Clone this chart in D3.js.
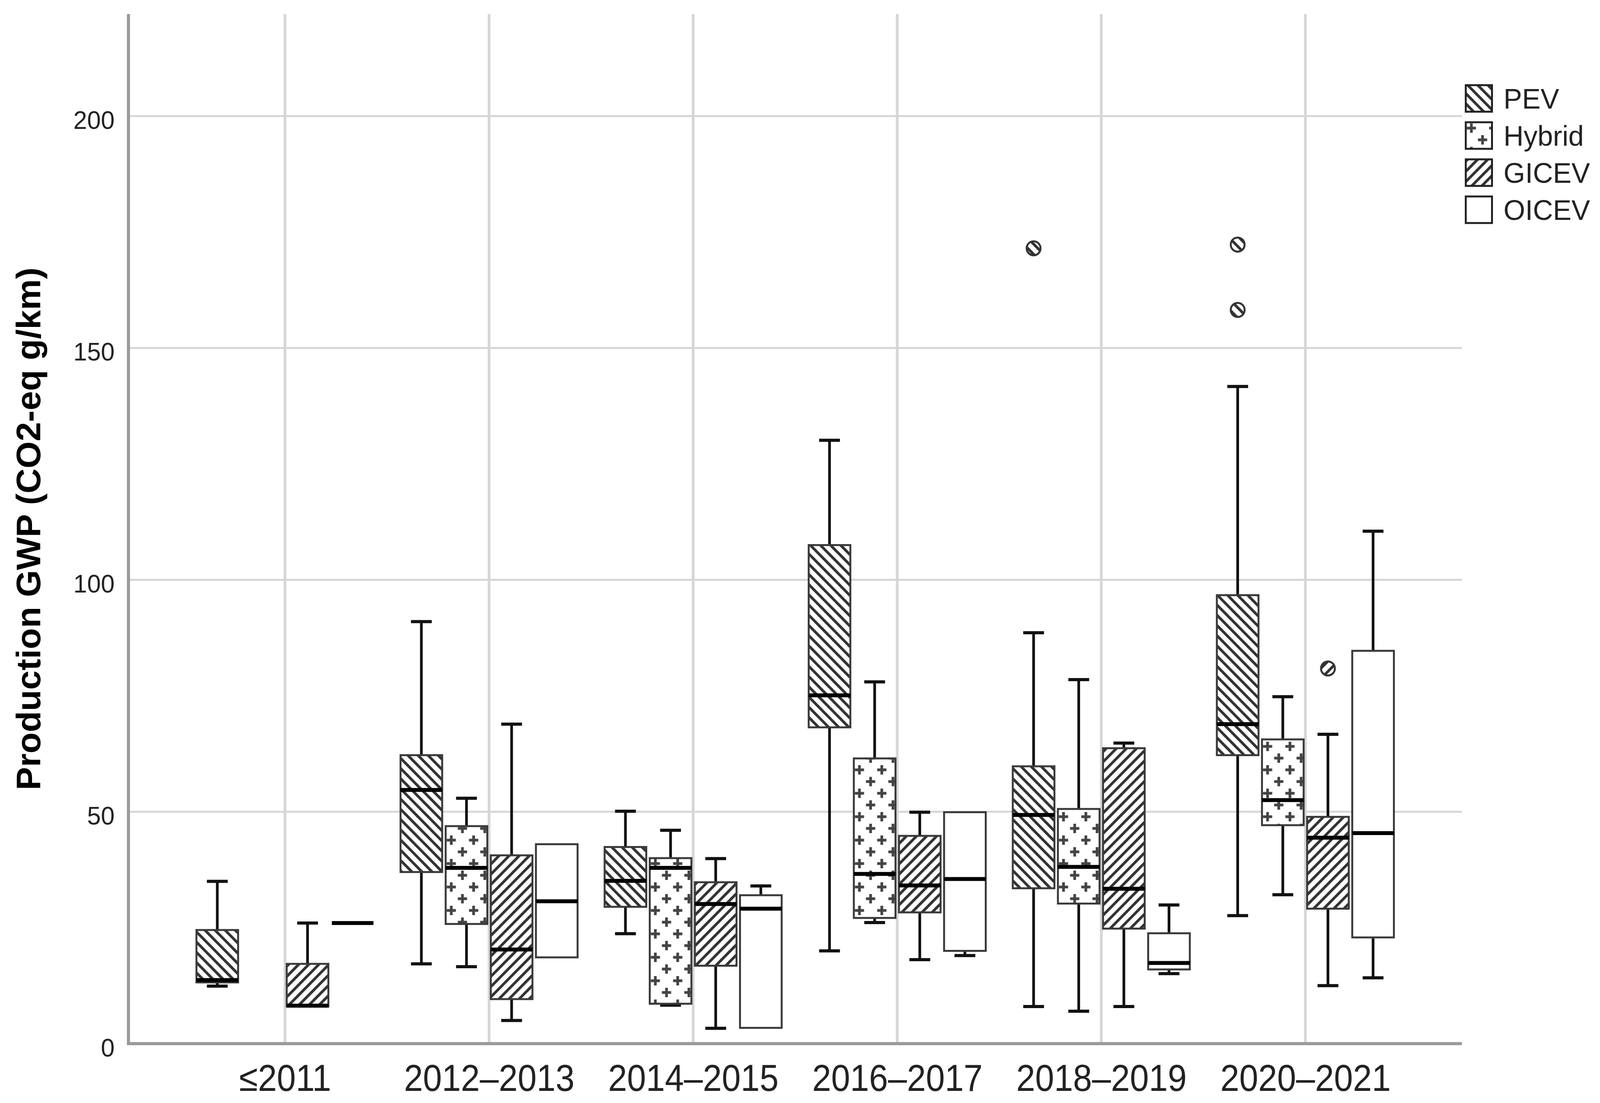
<!DOCTYPE html>
<html>
<head>
<meta charset="utf-8">
<script src="https://cdn.jsdelivr.net/npm/d3@7"></script>
<style>
  html, body { margin: 0; padding: 0; width: 100%; height: 100%; overflow: hidden; background: #fff; }
  #chart-area { width: 100%; height: 100%; }
  svg { display: block; }
  text { font-family: "Liberation Sans", Arial, sans-serif; }
</style>
</head>
<body>
<div id="chart-area"></div>
<script>
// box plot: production GWP by model year and powertrain

const width = 4148;
const height = 2824;

const margins = { top: 36, right: 358, bottom: 152, left: 333 };
const graphWidth = width - margins.left - margins.right;
const graphHeight = height - margins.top - margins.bottom;

// data: [min, q1, median, q3, max] per year bin
const categories = ["≤2011", "2012–2013", "2014–2015", "2016–2017", "2018–2019", "2020–2021"];
const groups = ["PEV", "Hybrid", "GICEV", "OICEV"];

const pevStats = [
    [12.4, 13.2, 13.7, 24.5, 35.0],
    [17.2, 37.0, 54.7, 62.2, 91.0],
    [23.7, 29.5, 35.1, 42.4, 50.1],
    [20.0, 68.2, 75.1, 107.5, 130.1],
    [8.0, 33.5, 49.3, 59.8, 88.6],
    [27.6, 62.2, 68.9, 96.7, 141.7]
];
const hybridStats = [
    null,
    [16.6, 25.8, 37.9, 46.9, 52.9],
    [8.3, 8.6, 37.9, 40.0, 46.0],
    [26.1, 27.1, 36.6, 61.5, 78.0],
    [7.0, 30.2, 38.1, 50.6, 78.5],
    [32.1, 47.1, 52.5, 65.6, 74.8]
];
const gicevStats = [
    [8.0, 8.0, 8.2, 17.2, 26.0],
    [5.0, 9.6, 20.3, 40.6, 68.9],
    [3.3, 16.8, 30.1, 34.8, 39.9],
    [18.1, 28.3, 34.1, 44.8, 49.9],
    [8.0, 24.8, 33.4, 63.7, 64.8],
    [12.5, 29.1, 44.4, 48.9, 66.7]
];
const oicevStats = [
    [26.0, 26.0, 26.0, 26.0, 26.0],
    [18.6, 18.6, 30.7, 43.0, 43.0],
    [3.4, 3.4, 29.1, 32.0, 34.0],
    [19.0, 20.0, 35.5, 49.9, 49.9],
    [15.1, 16.0, 17.4, 23.8, 29.9],
    [14.2, 22.9, 45.4, 84.7, 110.5]
];

// outliers
const outlierCats = ["2018–2019", "2020–2021", "2020–2021", "2020–2021"];
const outlierGroups = ["PEV", "PEV", "PEV", "GICEV"];
const outlierValues = [171.5, 172.3, 158.2, 80.9];

const yTicks = [0, 50, 100, 150, 200];
const yTitle = "Production GWP (CO2-eq g/km)";

const statsByGroup = { PEV: pevStats, Hybrid: hybridStats, GICEV: gicevStats, OICEV: oicevStats };
const fillByGroup = { PEV: "url(#pev)", Hybrid: "url(#hybrid)", GICEV: "url(#gicev)", OICEV: "#fff" };

let boxes = [];
groups.forEach(g => {
    statsByGroup[g].forEach((s, i) => {
        if (s) boxes.push({ cat: categories[i], group: g, min: s[0], q1: s[1], med: s[2], q3: s[3], max: s[4] });
    });
});

// viewBox stretched to the real viewport (it is not exactly 4148 wide)
const svg = d3.select("#chart-area")
    .append("svg")
    .attr("viewBox", `0 0 ${width} ${height}`)
    .attr("preserveAspectRatio", "none")
    .attr("width", "100%")
    .attr("height", "100%");

// fill patterns
const defs = svg.append("defs");

function hatch(id, angle) {
    const p = defs.append("pattern")
        .attr("id", id)
        .attr("patternUnits", "userSpaceOnUse")
        .attr("width", 18.5)
        .attr("height", 18.5)
        .attr("patternTransform", `rotate(${angle})`);
    p.append("rect").attr("width", 18.5).attr("height", 18.5).attr("fill", "#fff");
    p.append("rect").attr("x", 0).attr("width", 7).attr("height", 18.5).attr("fill", "#333");
}
hatch("pev", -45);
hatch("gicev", 45);

const hyb = defs.append("pattern")
    .attr("id", "hybrid")
    .attr("patternUnits", "userSpaceOnUse")
    .attr("width", 58)
    .attr("height", 60);
hyb.append("rect").attr("width", 58).attr("height", 60).attr("fill", "#fff");
[[14.5, 15], [43.5, 45]].forEach(([cx, cy]) => {
    hyb.append("path")
        .attr("d", `M${cx - 12},${cy}H${cx + 12}M${cx},${cy - 12}V${cy + 12}`)
        .attr("stroke", "#444")
        .attr("stroke-width", 7);
});

const chart = svg.append("g")
    .attr("transform", `translate(${margins.left}, ${margins.top})`);

const x0 = d3.scalePoint()
    .domain(categories)
    .range([0, graphWidth])
    .padding(0.767);

const x1 = d3.scaleBand()
    .domain(groups)
    .range([-234, 234])
    .paddingInner(0.077)
    .paddingOuter(0.0385);

const y = d3.scaleLinear()
    .domain([0, 222])
    .range([graphHeight, 0]);

// gridlines
chart.append("g")
    .selectAll("line")
    .data(yTicks.filter(d => d > 0))
    .enter()
    .append("line")
    .attr("x1", 0)
    .attr("x2", graphWidth)
    .attr("y1", d => y(d))
    .attr("y2", d => y(d))
    .attr("stroke", "#d6d6d6")
    .attr("stroke-width", 5);

chart.append("g")
    .selectAll("line")
    .data(categories)
    .enter()
    .append("line")
    .attr("x1", d => x0(d))
    .attr("x2", d => x0(d))
    .attr("y1", 0)
    .attr("y2", graphHeight)
    .attr("stroke", "#d6d6d6")
    .attr("stroke-width", 7);

// axes
const yAxis = chart.append("g")
    .call(d3.axisLeft(y).tickValues(yTicks).tickSize(0).tickPadding(36));
yAxis.select(".domain").remove();
yAxis.selectAll("text")
    .attr("dy", "0.5em")
    .style("font-size", "64px")
    .attr("fill", "#222");

const xAxis = chart.append("g")
    .attr("transform", `translate(0, ${graphHeight})`)
    .call(d3.axisBottom(x0).tickSize(0).tickPadding(53));
xAxis.select(".domain").remove();
xAxis.selectAll("text")
    .style("font-size", "96px")
    .attr("transform", "scale(0.92,1)")
    .attr("fill", "#222");

chart.append("line")
    .attr("x1", 0).attr("x2", 0)
    .attr("y1", 0).attr("y2", graphHeight + 4)
    .attr("stroke", "#9a9a9a")
    .attr("stroke-width", 8);
chart.append("line")
    .attr("x1", -4).attr("x2", graphWidth)
    .attr("y1", graphHeight).attr("y2", graphHeight)
    .attr("stroke", "#9a9a9a")
    .attr("stroke-width", 8);

svg.append("text")
    .attr("transform", `translate(104, ${margins.top + graphHeight / 2}) rotate(-90)`)
    .attr("text-anchor", "middle")
    .style("font-size", "89px")
    .style("font-weight", "bold")
    .attr("fill", "#000")
    .text(yTitle);

// boxes
const bw = x1.bandwidth();
const capW = bw * 0.5;
const boxG = chart.append("g")
    .selectAll("g")
    .data(boxes)
    .enter()
    .append("g")
    .attr("transform", d => `translate(${x0(d.cat) + x1(d.group)}, 0)`);

// whiskers
boxG.filter(d => d.max > d.q3).append("line")
    .attr("x1", bw / 2).attr("x2", bw / 2)
    .attr("y1", d => y(d.q3)).attr("y2", d => y(d.max))
    .attr("stroke", "#111").attr("stroke-width", 7);
boxG.filter(d => d.min < d.q1).append("line")
    .attr("x1", bw / 2).attr("x2", bw / 2)
    .attr("y1", d => y(d.q1)).attr("y2", d => y(d.min))
    .attr("stroke", "#111").attr("stroke-width", 7);
boxG.filter(d => d.max > d.q3).append("line")
    .attr("x1", (bw - capW) / 2).attr("x2", (bw + capW) / 2)
    .attr("y1", d => y(d.max)).attr("y2", d => y(d.max))
    .attr("stroke", "#111").attr("stroke-width", 8);
boxG.filter(d => d.min < d.q1).append("line")
    .attr("x1", (bw - capW) / 2).attr("x2", (bw + capW) / 2)
    .attr("y1", d => y(d.min)).attr("y2", d => y(d.min))
    .attr("stroke", "#111").attr("stroke-width", 8);

boxG.filter(d => d.q3 > d.q1).append("rect")
    .attr("x", 0)
    .attr("width", bw)
    .attr("y", d => y(d.q3))
    .attr("height", d => y(d.q1) - y(d.q3))
    .attr("fill", d => fillByGroup[d.group])
    .attr("stroke", "#3a3a3a")
    .attr("stroke-width", 5);

boxG.append("line")
    .attr("x1", 0).attr("x2", bw)
    .attr("y1", d => y(d.med)).attr("y2", d => y(d.med))
    .attr("stroke", "#000")
    .attr("stroke-width", 10);

// outliers
const outliers = outlierValues.map((v, i) => ({ cat: outlierCats[i], group: outlierGroups[i], value: v }));
chart.append("g")
    .selectAll("circle")
    .data(outliers)
    .enter()
    .append("circle")
    .attr("cx", d => x0(d.cat) + x1(d.group) + bw / 2)
    .attr("cy", d => y(d.value))
    .attr("r", 18)
    .attr("fill", d => fillByGroup[d.group])
    .attr("stroke", "#333")
    .attr("stroke-width", 5);

// legend
const legend = svg.append("g")
    .attr("transform", "translate(3800, 218)");
const legendRow = legend.selectAll("g")
    .data(groups)
    .enter()
    .append("g")
    .attr("transform", (d, i) => `translate(0, ${i * 95})`);
legendRow.append("rect")
    .attr("width", 68)
    .attr("height", 68)
    .attr("fill", d => fillByGroup[d])
    .attr("stroke", "#222")
    .attr("stroke-width", 5);
legendRow.append("text")
    .attr("x", 98)
    .attr("y", 34)
    .attr("dy", "0.36em")
    .style("font-size", "72px")
    .attr("fill", "#222")
    .text(d => d);
</script>
</body>
</html>
